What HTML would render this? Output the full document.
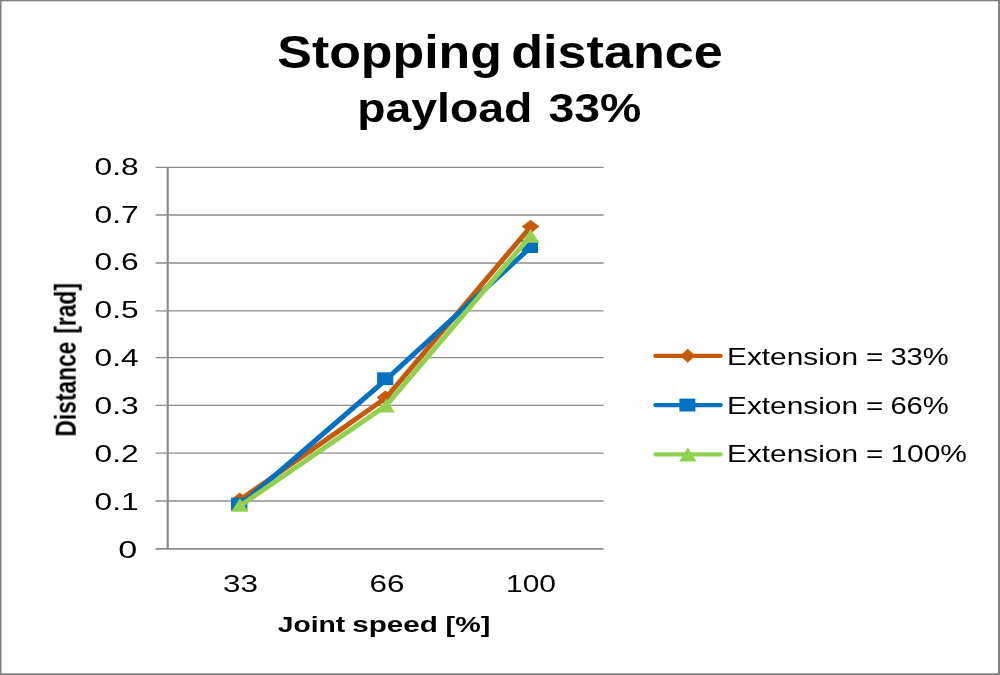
<!DOCTYPE html>
<html lang="en">
<head>
<meta charset="utf-8">
<title>Stopping distance payload 33%</title>
<style>
  html, body { margin: 0; padding: 0; background: #ffffff; }
  body { width: 1000px; height: 675px; overflow: hidden; }
  svg { display: block; }
  text { font-family: "Liberation Sans", sans-serif; fill: #000000; }
  .b { font-weight: bold; }
  .grid line { stroke: #8c8c8c; stroke-width: 1.3; }
  .axis { stroke: #8c8c8c; stroke-width: 1.8; }
  .s1 { stroke: #c55a11; fill: #c55a11; }
  .s2 { stroke: #0070c0; fill: #0070c0; }
  .s3 { stroke: #92d050; fill: #92d050; }
  .ln { fill: none; stroke-width: 5; stroke-linecap: round; stroke-linejoin: round; }
  .mk { stroke: none; }
</style>
</head>
<body>
<svg width="1000" height="675" viewBox="0 0 1000 675">
  <!-- background and chart frame -->
  <rect x="0" y="0" width="1000" height="675" fill="#ffffff"/>
  <g id="frame" fill="#808080">
    <rect x="0" y="0" width="1000" height="1.3"/>
    <rect x="0" y="0" width="1.5" height="675"/>
    <rect x="998" y="0" width="2" height="675"/>
    <rect x="0" y="673.3" width="1000" height="1.7"/>
  </g>

  <defs><filter id="soft" x="0" y="0" width="1000" height="675" filterUnits="userSpaceOnUse"><feGaussianBlur stdDeviation="0.45"/></filter></defs>
  <g id="content" filter="url(#soft)">
  <!-- title -->
  <g id="title" class="b">
    <text x="277.3" y="68.3" font-size="45.4" textLength="224.6" lengthAdjust="spacingAndGlyphs">Stopping</text>
    <text x="511.3" y="68.3" font-size="45.4" textLength="211.4" lengthAdjust="spacingAndGlyphs">distance</text>
    <text x="357.2" y="122.3" font-size="40.4" textLength="175.2" lengthAdjust="spacingAndGlyphs">payload</text>
    <text x="548.4" y="122.3" font-size="40.4" textLength="92.8" lengthAdjust="spacingAndGlyphs">33%</text>
  </g>

  <!-- gridlines -->
  <g class="grid">
    <line x1="155.6" x2="603.6" y1="167.3" y2="167.3"/>
    <line x1="155.6" x2="603.6" y1="215.0" y2="215.0"/>
    <line x1="155.6" x2="603.6" y1="263.0" y2="263.0"/>
    <line x1="155.6" x2="603.6" y1="310.8" y2="310.8"/>
    <line x1="155.6" x2="603.6" y1="357.6" y2="357.6"/>
    <line x1="155.6" x2="603.6" y1="405.4" y2="405.4"/>
    <line x1="155.6" x2="603.6" y1="453.2" y2="453.2"/>
    <line x1="155.6" x2="603.6" y1="501.0" y2="501.0"/>
  </g>
  <line class="axis" x1="155.6" x2="603.6" y1="548.9" y2="548.9"/>
  <line class="axis" x1="167.7" x2="167.7" y1="167.3" y2="548.9" style="stroke-width:2.2"/>

  <!-- y axis labels -->
  <g id="ylabels" font-size="24.8">
    <text x="94.5" y="174.6" textLength="44.1" lengthAdjust="spacingAndGlyphs">0.8</text>
    <text x="94.5" y="222.5" textLength="44.1" lengthAdjust="spacingAndGlyphs">0.7</text>
    <text x="94.5" y="270.4" textLength="44.1" lengthAdjust="spacingAndGlyphs">0.6</text>
    <text x="94.5" y="318.3" textLength="44.1" lengthAdjust="spacingAndGlyphs">0.5</text>
    <text x="94.5" y="365.9" textLength="44.1" lengthAdjust="spacingAndGlyphs">0.4</text>
    <text x="94.5" y="413.8" textLength="44.1" lengthAdjust="spacingAndGlyphs">0.3</text>
    <text x="94.5" y="461.7" textLength="44.1" lengthAdjust="spacingAndGlyphs">0.2</text>
    <text x="94.5" y="509.6" textLength="44.1" lengthAdjust="spacingAndGlyphs">0.1</text>
    <text x="118.2" y="557.6" textLength="19" lengthAdjust="spacingAndGlyphs">0</text>
  </g>

  <!-- x axis labels -->
  <g id="xlabels" font-size="23">
    <text x="223" y="592.2" textLength="35" lengthAdjust="spacingAndGlyphs">33</text>
    <text x="369.6" y="592.2" textLength="35" lengthAdjust="spacingAndGlyphs">66</text>
    <text x="506" y="592.2" textLength="50" lengthAdjust="spacingAndGlyphs">100</text>
  </g>

  <!-- axis titles -->
  <g id="xtitle" class="b" font-size="22.6">
    <text x="277.8" y="632.1" textLength="67.5" lengthAdjust="spacingAndGlyphs">Joint</text>
    <text x="352.2" y="632.1" textLength="85.6" lengthAdjust="spacingAndGlyphs">speed</text>
    <text x="445.6" y="632.1" textLength="44.6" lengthAdjust="spacingAndGlyphs">[%]</text>
  </g>
  <g id="ytitle" class="b" font-size="29.7" transform="translate(75.7 436.6) rotate(-90)">
    <text x="0" y="0" textLength="95" lengthAdjust="spacingAndGlyphs">Distance</text>
    <text x="103" y="0" textLength="50.5" lengthAdjust="spacingAndGlyphs">[rad]</text>
  </g>

  <!-- series -->
  <g id="series1" class="s1">
    <polyline class="ln" points="239.8,500.0 385.5,398.3 530.6,226.8"/>
    <path class="mk" d="M239.8 492.6 l8.8 6.9 l-8.8 6.9 l-8.8 -6.9z"/>
    <path class="mk" d="M385.3 390.6 l8.8 6.9 l-8.8 6.9 l-8.8 -6.9z"/>
    <path class="mk" d="M530.6 219.7 l8.8 6.9 l-8.8 6.9 l-8.8 -6.9z"/>
  </g>
  <g id="series2" class="s2">
    <polyline class="ln" points="240.4,505.2 385.7,379.8 530.4,247.5"/>
    <rect class="mk" x="231.0" y="497.7" width="16.4" height="12.9"/>
    <rect class="mk" x="377.1" y="372.3" width="16.2" height="12.8"/>
    <rect class="mk" x="521.8" y="240.2" width="16.2" height="12.8"/>
  </g>
  <g id="series3" class="s3">
    <polyline class="ln" points="240.6,505.5 386.0,405.6 530.7,235.9"/>
    <path class="mk" d="M239.9 498 l8.6 13.8 h-17.2z"/>
    <path class="mk" d="M386.2 398.6 l8.6 13.8 h-17.2z"/>
    <path class="mk" d="M530.6 229 l8.8 13.8 h-17.6z"/>
  </g>

  <!-- legend -->
  <g id="legend">
    <g class="s1">
      <line class="ln" style="stroke-width:4.2" x1="655.4" x2="720.7" y1="355.8" y2="355.8"/>
      <path class="mk" d="M687.7 348.8 l7.6 7 l-7.6 7 l-7.6 -7z"/>
    </g>
    <g class="s2">
      <line class="ln" style="stroke-width:4.2" x1="655.4" x2="720.7" y1="405.1" y2="405.1"/>
      <rect class="mk" x="679.4" y="398.6" width="16" height="12.9"/>
    </g>
    <g class="s3">
      <line class="ln" style="stroke-width:4.2" x1="655.4" x2="720.7" y1="454.3" y2="454.3"/>
      <path class="mk" d="M687.9 447.6 l8.7 13.9 h-17.4z"/>
    </g>
    <g font-size="24.1">
      <text x="727" y="364.6" textLength="131" lengthAdjust="spacingAndGlyphs">Extension</text>
      <text x="866.1" y="364.6" textLength="17.3" lengthAdjust="spacingAndGlyphs">=</text>
      <text x="890.4" y="364.6" textLength="58.4" lengthAdjust="spacingAndGlyphs">33%</text>
      <text x="727" y="413.6" textLength="131" lengthAdjust="spacingAndGlyphs">Extension</text>
      <text x="866.1" y="413.6" textLength="17.3" lengthAdjust="spacingAndGlyphs">=</text>
      <text x="890.4" y="413.6" textLength="58.4" lengthAdjust="spacingAndGlyphs">66%</text>
      <text x="727" y="462.4" textLength="131" lengthAdjust="spacingAndGlyphs">Extension</text>
      <text x="866.1" y="462.4" textLength="17.3" lengthAdjust="spacingAndGlyphs">=</text>
      <text x="890.4" y="462.4" textLength="76.6" lengthAdjust="spacingAndGlyphs">100%</text>
    </g>
  </g>
  </g>
</svg>
</body>
</html>
